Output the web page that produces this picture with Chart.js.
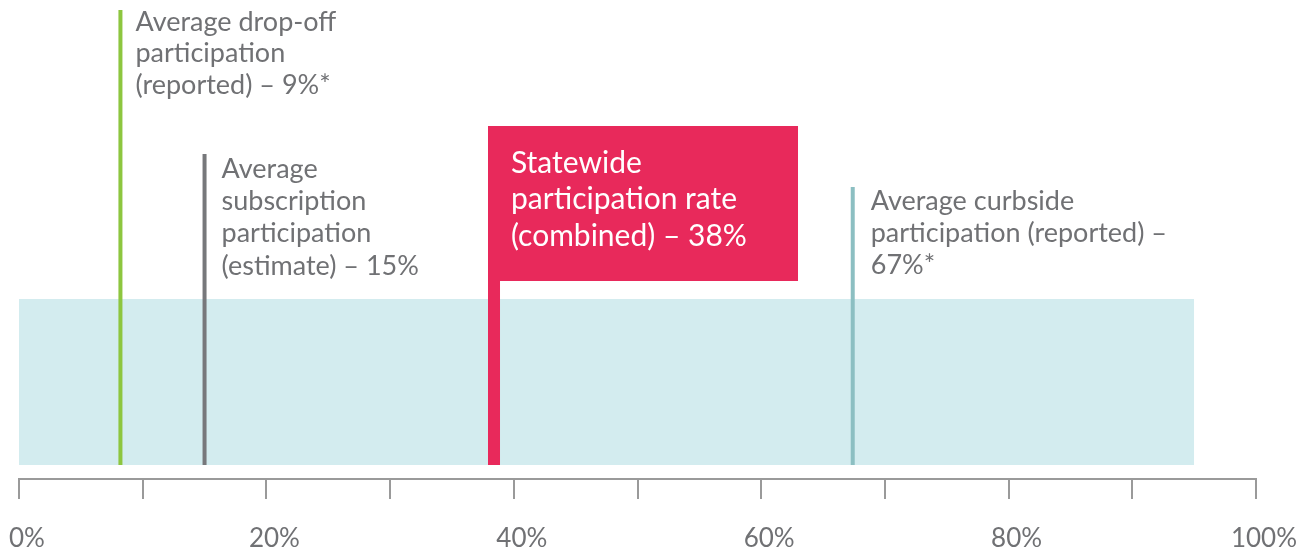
<!DOCTYPE html>
<html>
<head>
<meta charset="utf-8">
<script src="https://cdn.jsdelivr.net/npm/chart.js@4.4.1/dist/chart.umd.min.js"></script>
<style>
  html, body { margin: 0; padding: 0; background: #ffffff; }
  #wrap { width: 1310px; height: 554px; position: relative; }
</style>
</head>
<body>
<div id="wrap"><canvas id="c" width="1310" height="554"></canvas></div>
<script>
// ---- data ----
const markerNames = ['dropoff', 'subscription', 'statewide', 'curbside'];
const markerValues = [8.2, 15.0, 38.4, 67.4];           // positions (% on the axis)
const markerLabels = [
  ['Average drop-off', 'participation', '(reported) \u2013 9%*'],
  ['Average', 'subscription', 'participation', '(estimate) \u2013 15%'],
  ['Statewide', 'participation rate', '(combined) \u2013 38%'],
  ['Average curbside', 'participation (reported) \u2013', '67%*']
];
const bandRange = [0, 95];                              // light blue range band (%)
const tickValues = [0, 10, 20, 30, 40, 50, 60, 70, 80, 90, 100];
const tickLabels = ['0%', '', '20%', '', '40%', '', '60%', '', '80%', '', '100%'];

// ---- styling / layout (not data) ----
const colors = ['#8DC63F', '#77787B', '#E8295B', '#8CBFC2'];
const lineWidths = [4, 4, 12, 4];
const lineTops = [10, 154, 126, 187];       // y (px from top) where each marker line starts
const bandTop = 299, bandBottom = 465;
const textColor = '#707174';
const FONT = 'Lato, "Open Sans", sans-serif';

const datasets = [];
datasets.push({
  type: 'line', label: 'band-bottom',
  data: [{x: bandRange[0], y: bandBottom}, {x: bandRange[1], y: bandBottom}],
  borderWidth: 0, pointRadius: 0, borderColor: 'rgba(0,0,0,0)', fill: false, order: 10
});
datasets.push({
  type: 'line', label: 'band-top',
  data: [{x: bandRange[0], y: bandTop}, {x: bandRange[1], y: bandTop}],
  borderWidth: 0, pointRadius: 0, borderColor: 'rgba(0,0,0,0)',
  backgroundColor: '#D3ECEF', fill: '-1', order: 9
});
markerValues.forEach((v, i) => {
  datasets.push({
    type: 'line', label: markerNames[i],
    data: [{x: v, y: lineTops[i]}, {x: v, y: bandBottom}],
    borderColor: colors[i], borderWidth: lineWidths[i], borderCapStyle: 'butt',
    pointRadius: 0, fill: false, order: 1
  });
});

const labelPlugin = {
  id: 'markerLabels',
  afterDatasetsDraw(chart) {
    const ctx = chart.ctx;
    const xs = chart.scales.x, ys = chart.scales.y;
    ctx.save();
    const fi = 2;
    const fx = xs.getPixelForValue(markerValues[fi]) - lineWidths[fi] / 2;
    const fTop = ys.getPixelForValue(126), fBot = ys.getPixelForValue(281);
    ctx.fillStyle = colors[fi];
    ctx.fillRect(fx, fTop, 310, fBot - fTop);

    const cfg = [
      {dx: 15, y0: 22, lh: 31.7, size: 27, weight: 400, color: textColor},
      {dx: 17, y0: 169, lh: 32.3, size: 27, weight: 400, color: textColor},
      {dx: 17, y0: 163, lh: 36.5, size: 30, weight: 400, color: '#ffffff'},
      {dx: 18, y0: 201, lh: 32, size: 27, weight: 400, color: textColor}
    ];
    markerLabels.forEach((lines, i) => {
      const c = cfg[i];
      const x = xs.getPixelForValue(markerValues[i]) + c.dx;
      ctx.fillStyle = c.color;
      ctx.font = c.weight + ' ' + c.size + 'px ' + FONT;
      ctx.textBaseline = 'middle';
      ctx.textAlign = 'left';
      lines.forEach((t, k) => {
        ctx.fillText(t, x, ys.getPixelForValue(c.y0 + k * c.lh));
      });
    });
    ctx.restore();
  }
};

new Chart(document.getElementById('c'), {
  type: 'line',
  data: { datasets },
  plugins: [labelPlugin],
  options: {
    responsive: false,
    animation: false,
    events: [],
    layout: { padding: { left: 19, right: 54, top: 0, bottom: 0 } },
    plugins: { legend: { display: false }, tooltip: { enabled: false } },
    scales: {
      y: { type: 'linear', display: false, reverse: true, min: 0, max: 479 },
      x: {
        type: 'linear', min: 0, max: 100,
        afterBuildTicks(axis) { axis.ticks = tickValues.map(v => ({value: v})); },
        afterFit(axis) { axis.paddingLeft = 0; axis.paddingRight = 0; axis.height = 75; },
        ticks: {
          autoSkip: false, maxRotation: 0,
          callback: (v) => { const i = tickValues.indexOf(v); return i >= 0 ? tickLabels[i] : ''; },
          font: { family: FONT, size: 26, weight: 400 },
          color: textColor, padding: 24, labelOffset: 8
        },
        grid: { display: true, drawOnChartArea: false, drawTicks: true, tickLength: 20, color: '#9A9A9A', lineWidth: 2 },
        border: { display: true, color: '#9A9A9A', width: 2 }
      }
    }
  }
});
</script>
</body>
</html>
